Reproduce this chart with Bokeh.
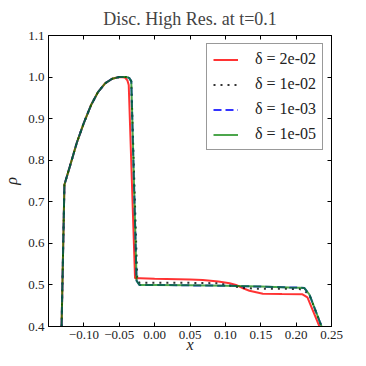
from bokeh.plotting import figure
from bokeh.models import FixedTicker, LinearAxis, Legend, LegendItem, Range1d
from bokeh.embed import file_html
from bokeh.resources import INLINE

# ---- data ----
rise_x = [-0.1315, -0.1275, -0.12, -0.11, -0.10, -0.09, -0.08, -0.07, -0.06, -0.05]
rise_y = [0.40, 0.741, 0.784, 0.842, 0.890, 0.932, 0.964, 0.985, 0.996, 1.0]

red_x = rise_x + [-0.042, -0.0385, -0.0366, -0.0277, -0.02, 0.0, 0.05, 0.068, 0.09, 0.106, 0.115,
                  0.125, 0.134, 0.153, 0.18, 0.209, 0.216, 0.233]
red_y = rise_y + [0.999, 0.992, 0.981, 0.516, 0.516, 0.515, 0.513, 0.512, 0.508, 0.504, 0.500,
                  0.492, 0.486, 0.479, 0.478, 0.4775, 0.470, 0.40]

black_x = rise_x + [-0.040, -0.036, -0.033, -0.0245, -0.021, 0.0, 0.05, 0.09, 0.105, 0.12,
                    0.14, 0.18, 0.205, 0.212, 0.219, 0.236]
black_y = rise_y + [1.0, 0.998, 0.99, 0.51, 0.505, 0.505, 0.505, 0.504, 0.499, 0.494,
                    0.491, 0.491, 0.490, 0.486, 0.475, 0.40]

blue_x = rise_x + [-0.040, -0.036, -0.033, -0.0255, -0.0215, -0.015, 0.0, 0.05, 0.10, 0.15,
                   0.19, 0.205, 0.2117, 0.2188, 0.236]
blue_y = rise_y + [1.0, 0.998, 0.99, 0.51, 0.50, 0.50, 0.50, 0.499, 0.498, 0.496,
                   0.494, 0.4935, 0.4925, 0.477, 0.40]

green_x = rise_x + [-0.040, -0.036, -0.033, -0.0255, -0.0215, -0.015, 0.0, 0.05, 0.10, 0.15,
                    0.19, 0.205, 0.2117, 0.2188, 0.236]
green_y = rise_y + [1.0, 0.998, 0.99, 0.51, 0.50, 0.50, 0.50, 0.499, 0.498, 0.496,
                    0.494, 0.4935, 0.4925, 0.477, 0.40]

labels = ["δ = 2e-02", "δ = 1e-02", "δ = 1e-03", "δ = 1e-05"]
x_ticks = [-0.10, -0.05, 0.0, 0.05, 0.10, 0.15, 0.20, 0.25]
x_tick_labels = ["−0.10", "−0.05", "0.00", "0.05", "0.10", "0.15", "0.20", "0.25"]
y_ticks = [0.4, 0.5, 0.6, 0.7, 0.8, 0.9, 1.0, 1.1]
y_tick_labels = ["0.4", "0.5", "0.6", "0.7", "0.8", "0.9", "1.0", "1.1"]

FONT = "Liberation Serif"

p = figure(frame_width=283, frame_height=291, output_backend="svg", toolbar_location=None,
           x_range=Range1d(-0.15, 0.25), y_range=Range1d(0.4, 1.1),
           title="Disc. High Res. at t=0.1",
           min_border_left=36, min_border_right=26, min_border_top=29, min_border_bottom=27)

p.title.text_font = FONT
p.title.text_font_size = "18px"
p.title.text_font_style = "normal"
p.title.align = "center"
p.title.standoff = 13

p.xgrid.visible = False
p.ygrid.visible = False
p.outline_line_color = "black"
p.outline_line_width = 1
p.background_fill_color = "white"
p.border_fill_color = "white"

def style_axis(ax, ticks, overrides, show_labels=True):
    ax.ticker = FixedTicker(ticks=ticks)
    ax.major_label_overrides = {t: l for t, l in zip(ticks, overrides)}
    ax.major_tick_in = 4
    ax.major_tick_out = 0
    ax.minor_tick_in = 0
    ax.minor_tick_out = 0
    ax.axis_line_color = "black"
    ax.major_tick_line_color = "black"
    ax.major_label_text_font = FONT
    ax.major_label_text_color = "#222222"
    if show_labels:
        ax.major_label_text_font_size = "13px"
        ax.major_label_standoff = 4
    else:
        ax.major_label_text_font_size = "0px"
        ax.major_label_standoff = 0

style_axis(p.xaxis[0], x_ticks, x_tick_labels)
style_axis(p.yaxis[0], y_ticks, y_tick_labels)
p.xaxis[0].axis_label = "x"
p.yaxis[0].axis_label = "ρ"
for ax in (p.xaxis[0], p.yaxis[0]):
    ax.axis_label_text_font = FONT
    ax.axis_label_text_font_style = "italic"
    ax.axis_label_text_font_size = "16px"
    ax.axis_label_text_color = "#222222"
p.xaxis[0].axis_label_standoff = -6
p.yaxis[0].axis_label_standoff = 5

top_ax = LinearAxis()
right_ax = LinearAxis()
style_axis(top_ax, x_ticks, ["" for _ in x_ticks], show_labels=False)
style_axis(right_ax, y_ticks, ["" for _ in y_ticks], show_labels=False)
p.add_layout(top_ax, "above")
p.add_layout(right_ax, "right")

r1 = p.line(red_x, red_y, line_color="#ff0000", line_width=2, line_alpha=0.8)
r2 = p.line(black_x, black_y, line_color="black", line_width=2, line_alpha=0.8, line_dash="2 5")
r3 = p.line(blue_x, blue_y, line_color="#0000ff", line_width=2, line_alpha=0.8, line_dash="8 4")
r4 = p.line(green_x, green_y, line_color="#008000", line_width=2, line_alpha=0.7)

legend = Legend(items=[LegendItem(label=l, renderers=[r]) for l, r in zip(labels, [r1, r2, r3, r4])],
                location="top_right")
legend.label_text_font = FONT
legend.label_text_font_size = "16px"
legend.label_text_color = "#222222"
legend.glyph_width = 25
legend.glyph_height = 17
legend.label_height = 17
legend.label_standoff = 17
legend.spacing = 7
legend.padding = 6
legend.margin = 8
legend.border_line_color = "#333333"
legend.border_line_width = 1
legend.background_fill_alpha = 1.0
p.add_layout(legend, "center")

open("out.html", "w").write(file_html(p, INLINE))
